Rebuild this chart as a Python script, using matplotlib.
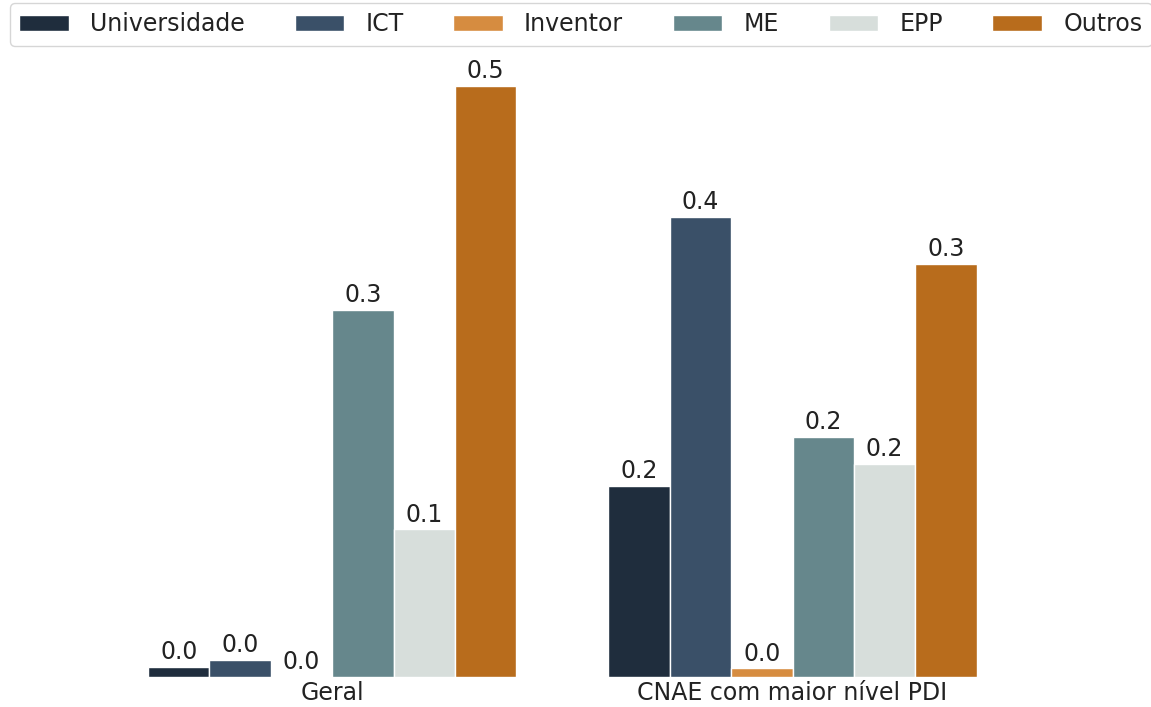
import numpy as np
import matplotlib.pyplot as plt

# Data
groups = ['Geral', 'CNAE com maior nível PDI']
series = ['Universidade', 'ICT', 'Inventor', 'ME', 'EPP', 'Outros']
universidade = [0.008, 0.157]
ict = [0.014, 0.377]
inventor = [0.0, 0.007]
me = [0.301, 0.197]
epp = [0.121, 0.175]
outros = [0.485, 0.339]
colours = ['#1f2d3d', '#3a5068', '#d68c40', '#66878c', '#d7dedb', '#b86c1c']

values = [universidade, ict, inventor, me, epp, outros]

plt.rcParams['font.family'] = ['DejaVu Sans']
fig = plt.figure(figsize=(11.51, 7.07), dpi=100)
ax = fig.add_axes([0.0886, 0.0424, 0.800, 0.897])

x = np.arange(len(groups))
width = 0.8 / len(series)
for i, (name, vals) in enumerate(zip(series, values)):
    pos = x - 0.4 + width * (i + 0.5)
    bars = ax.bar(pos, vals, width, color=colours[i], label=name,
                  edgecolor='white', linewidth=1)
    ax.bar_label(bars, fmt='%.1f', padding=2, fontsize=17, color='#222222')

ax.set_xlim(-0.5, 1.5)
ax.set_ylim(0, 0.52)
ax.set_xticks(x)
ax.set_xticklabels(groups, fontsize=17, color='#222222')
ax.tick_params(axis='x', length=0, pad=3)
ax.set_yticks([])
for s in ax.spines.values():
    s.set_visible(False)

leg = ax.legend(loc='upper left', bbox_to_anchor=(-0.1, 1.063), ncol=6,
                fontsize=17, frameon=True, handlelength=2.1, handleheight=0.65,
                handletextpad=0.9, columnspacing=2.1, borderpad=0.4,
                borderaxespad=0, edgecolor='#cccccc', fancybox=True,
                labelcolor='#222222')

plt.savefig('out.png', dpi=100)
